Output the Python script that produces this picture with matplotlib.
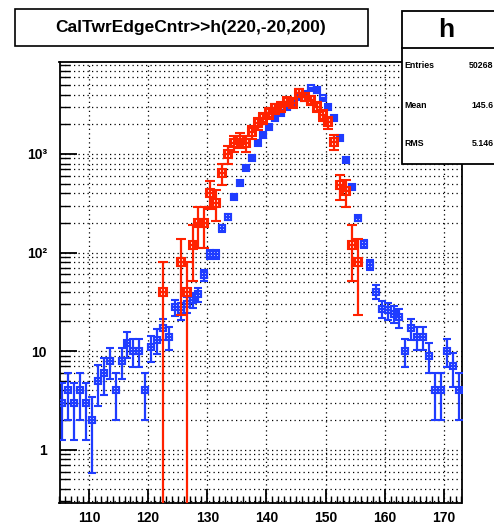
import numpy as np
import matplotlib
matplotlib.use("Agg")
import matplotlib.pyplot as plt
from matplotlib.ticker import LogLocator, MultipleLocator, FixedLocator, FixedFormatter, NullFormatter
from matplotlib.patches import Rectangle

# ---------------- data ----------------
title_text = "CalTwrEdgeCntr>>h(220,-20,200)"
hist_name = "h"
nbins, xlow, xup = 220, -20.0, 200.0
x_view = (105, 173)

# blue histogram "h": counts for bins with lower edges 105 ... 172
blue_counts = [3, 4, 3, 4, 3, 2, 5, 6, 8, 4, 8, 12, 10, 10, 4, 11, 13, 17, 14, 28,
               26, 30, 33, 38, 59, 96, 96, 176, 231, 368, 503, 714, 902, 1280, 1555,
               1890, 2300, 2580, 3015, 3390, 3800, 4100, 4630, 4460, 3660, 3010, 2300,
               1450, 870, 465, 222, 122, 75, 40, 27, 26, 24, 22, 10, 17, 14, 14, 9, 4,
               4, 10, 7, 4]
blue_first_edge = 105

# red (weighted) histogram: values and errors for bins with lower edges 122 ... 155
red_first_edge = 122
red_values = [40, 0, 0, 80, 40, 120, 200, 200, 400, 320, 640, 1000, 1280, 1380, 1280,
              1680, 2050, 2300, 2600, 2900, 3000, 3400, 3300, 4200, 3800, 3500, 3000,
              2500, 2100, 1330, 480, 420, 120, 80]
red_errors = [40, 0, 0, 57, 40, 69, 89, 89, 126, 113, 160, 200, 226, 235, 226,
              259, 286, 303, 322, 341, 346, 369, 363, 410, 390, 374, 346,
              316, 290, 231, 139, 130, 69, 57]

stats_labels = ["Entries", "Mean", "RMS"]
stats_values = ["50268", "145.6", "5.146"]

xtick_vals = [110, 120, 130, 140, 150, 160, 170]
ytick_vals = [1, 10, 100, 1000]
ytick_labels = ["1", "10", "10\u00b2", "10\u00b3"]

# ---------------- derived ----------------
bw = (xup - xlow) / nbins
blue_c = np.asarray(blue_counts, float)
blue_x = blue_first_edge + bw * (np.arange(len(blue_c)) + 0.5)
blue_e = np.sqrt(blue_c)
red_v = np.asarray(red_values, float)
red_e = np.asarray(red_errors, float)
red_x = red_first_edge + bw * (np.arange(len(red_v)) + 0.5)

plt.rcParams["font.family"] = ["Liberation Sans", "DejaVu Sans"]
plt.rcParams["font.weight"] = "bold"

W, H = 494, 525
fig = plt.figure(figsize=(W / 100, H / 100), dpi=100)
L, R, T, B = 59.5, 461.5, 61.7, 502.7
ax = fig.add_axes([L / W, 1 - B / H, (R - L) / W, (B - T) / H])
ax.set_yscale("log", nonpositive="clip")
ax.set_xlim(*x_view)
ax.set_ylim(0.29, 8630)

blue_col = "#1f3cff"
red_col = "#ff2200"

m = blue_c > 0
ax.errorbar(blue_x[m], blue_c[m], yerr=np.vstack([np.minimum(blue_e[m], blue_c[m] * 0.9999), blue_e[m]]),
            xerr=bw / 2, fmt="s", ms=4.5, mfc="none", mec=blue_col, mew=1.5,
            ecolor=blue_col, elinewidth=1.6, capsize=3, capthick=1.6, zorder=3)
m = red_v > 0
lo = np.where(red_e[m] >= red_v[m], red_v[m] - 1e-3, red_e[m])
ax.errorbar(red_x[m], red_v[m], yerr=np.vstack([lo, red_e[m]]),
            xerr=bw / 2, fmt="s", ms=5.8, mfc="none", mec=red_col, mew=1.5,
            ecolor=red_col, elinewidth=1.6, capsize=3.5, capthick=1.6, zorder=4)

# axes styling (ROOT-like)
for s in ax.spines.values():
    s.set_linewidth(1.3)
    s.set_color("black")
ax.xaxis.set_major_locator(FixedLocator(xtick_vals))
ax.xaxis.set_minor_locator(MultipleLocator(1))
ax.yaxis.set_major_locator(FixedLocator(ytick_vals))
ax.yaxis.set_major_formatter(FixedFormatter(ytick_labels))
ax.yaxis.set_minor_locator(LogLocator(base=10, subs=np.arange(2, 10), numticks=20))
ax.yaxis.set_minor_formatter(NullFormatter())
ax.tick_params(axis="both", which="both", direction="in", top=False, right=False, color="black")
ax.tick_params(axis="x", which="major", length=10, width=1.3, pad=6, labelsize=10)
ax.tick_params(axis="x", which="minor", length=5, width=1.0)
ax.tick_params(axis="y", which="major", length=12, width=1.3, pad=9, labelsize=10)
ax.tick_params(axis="y", which="minor", length=7, width=1.0)
for lab in ax.get_xticklabels() + ax.get_yticklabels():
    lab.set_fontweight("bold")

grid_style = dict(color="black", linestyle=(0, (1, 2.6)), linewidth=0.9)
ax.grid(True, axis="y", which="both", **grid_style)
ax.grid(True, axis="x", which="major", **grid_style)
ax.set_axisbelow(True)

# title box
fig.patches.append(Rectangle((15 / W, 1 - 46 / H), (368 - 15) / W, (46 - 9.5) / H,
                             transform=fig.transFigure, fill=True, facecolor="white",
                             edgecolor="black", linewidth=1.2, zorder=10))
fig.text(191 / W, 1 - 27.5 / H, title_text, ha="center", va="center",
         fontsize=12.5, fontweight="bold", zorder=11)

# stats box
sx0, sy0, sy1, sdiv = 401.7, 11, 164, 47.7
fig.patches.append(Rectangle((sx0 / W, 1 - sy1 / H), (W + 10 - sx0) / W, (sy1 - sy0) / H,
                             transform=fig.transFigure, fill=True, facecolor="white",
                             edgecolor="black", linewidth=1.3, zorder=10, clip_on=False))
fig.add_artist(plt.Line2D([sx0 / W, 1.02], [1 - sdiv / H, 1 - sdiv / H],
                          transform=fig.transFigure, color="black", linewidth=1.3, zorder=11))
fig.text(446 / W, 1 - 30 / H, hist_name, ha="center", va="center",
         fontsize=19, fontweight="bold", zorder=12)
for i, (lab, val) in enumerate(zip(stats_labels, stats_values)):
    yy = [65, 106, 144][i]
    fig.text(404.5 / W, 1 - yy / H, lab, ha="left", va="center", fontsize=6.3,
             fontweight="bold", zorder=12)
    fig.text(493.5 / W, 1 - yy / H, val, ha="right", va="center", fontsize=6.3,
             fontweight="bold", zorder=12)

fig.savefig("out.png", dpi=100)
